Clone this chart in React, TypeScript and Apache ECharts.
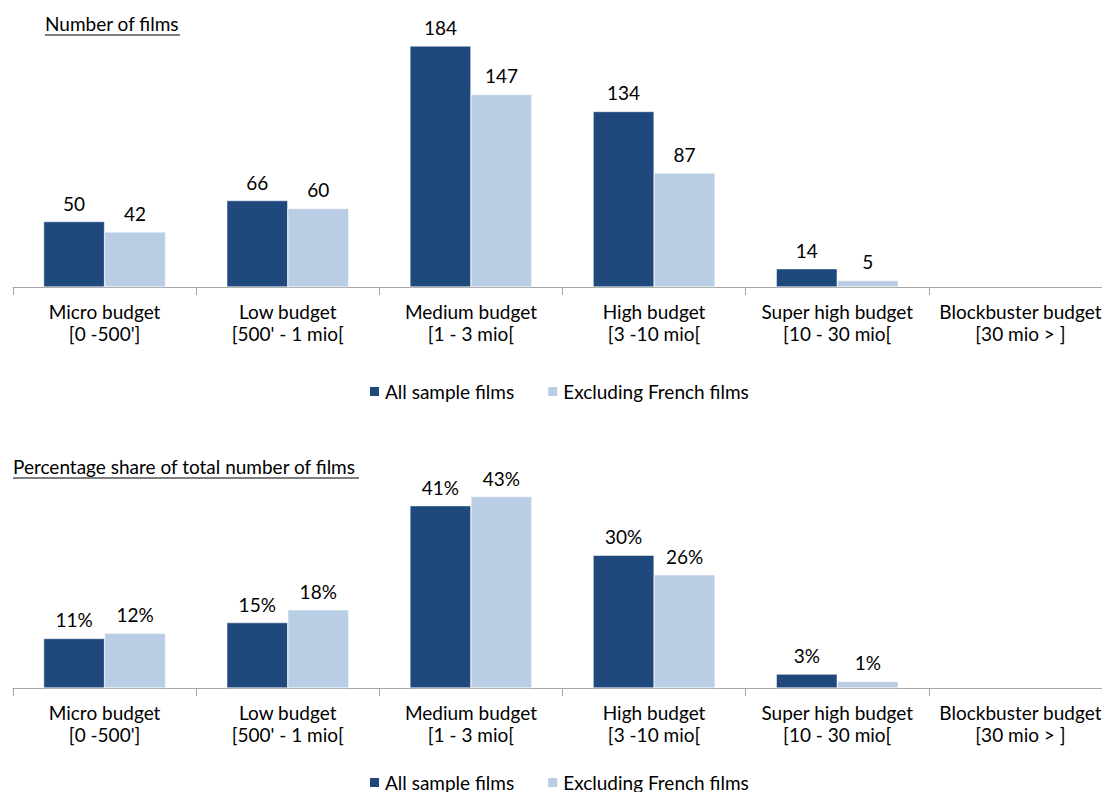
import React, { useEffect, useRef } from "react";
import * as echarts from "echarts";

const categories = [
  "Micro budget\n[0 -500']",
  "Low budget\n[500' - 1 mio[",
  "Medium budget\n[1 - 3 mio[",
  "High budget\n[3 -10 mio[",
  "Super high budget\n[10 - 30 mio[",
  "Blockbuster budget\n[30 mio > ]",
];
const countAll = [50, 66, 184, 134, 14, null];
const countExcl = [42, 60, 147, 87, 5, null];
const shareAll = [11.16, 14.73, 41.07, 29.91, 3.13, null];
const shareExcl = [12.32, 17.6, 43.11, 25.51, 1.47, null];
const seriesNames = ["All sample films", "Excluding French films"];

const DARK = "#1F497D";
const LIGHT = "#B9CDE5";
const FONT = "Lato, 'Open Sans', sans-serif";
const FS = 19;

export default function App() {
  const ref = useRef<HTMLDivElement>(null);
  useEffect(() => {
    const chart = echarts.init(ref.current!, null, { renderer: "svg" });
    const label = (pct: boolean) => ({
      show: true,
      position: "top",
      distance: 9,
      color: "#000",
      fontSize: FS,
      fontFamily: FONT,
      formatter: (p: any) => (p.value == null ? "" : pct ? Math.round(p.value) + "%" : String(p.value)),
    });
    const xAxisBase = (gridIndex: number) => ({
      type: "category",
      gridIndex,
      data: categories,
      axisLine: { lineStyle: { color: "#A6A6A6", width: 1 } },
      axisTick: { show: true, length: 8, lineStyle: { color: "#A6A6A6" } },
      axisLabel: { color: "#000", fontSize: FS, fontFamily: FONT, lineHeight: 22, margin: 13, interval: 0 },
    });
    const yAxisBase = (gridIndex: number, max: number) => ({
      type: "value",
      gridIndex,
      min: 0,
      max,
      show: false,
      splitLine: { show: false },
    });
    const bar = (name: string, data: any[], color: string, idx: number, pct: boolean) => ({
      type: "bar",
      name,
      data,
      xAxisIndex: idx,
      yAxisIndex: idx,
      barWidth: 61,
      barGap: "0%",
      itemStyle: { color, borderColor: "#fff", borderWidth: 0.5 },
      label: label(pct),
    });
    const legend = (top: number) => ({
      top,
      left: 363,
      itemWidth: 11,
      itemHeight: 11,
      itemGap: 32,
      icon: "rect",
      textStyle: { fontSize: FS, color: "#000", fontFamily: FONT },
      data: seriesNames,
    });
    chart.setOption({
      animation: false,
      textStyle: { fontFamily: FONT },
      grid: [
        { left: 13, width: 1099, top: 25, height: 262, outerBoundsMode: "none", containLabel: false },
        { left: 13, width: 1099, top: 466, height: 222, outerBoundsMode: "none", containLabel: false },
      ],
      xAxis: [xAxisBase(0), xAxisBase(1)],
      yAxis: [yAxisBase(0, 200), yAxisBase(1, 50)],
      legend: [legend(377), legend(768)],
      graphic: [
        { type: "text", left: 45, top: 14, style: { text: "Number of films", fontSize: FS, fontFamily: FONT, fill: "#000" } },
        { type: "line", shape: { x1: 45, y1: 35, x2: 180, y2: 35 }, style: { stroke: "#000", lineWidth: 1.2 } },
        { type: "text", left: 13, top: 457, style: { text: "Percentage share of total number of films", fontSize: FS, fontFamily: FONT, fill: "#000" } },
        { type: "line", shape: { x1: 13, y1: 478, x2: 359, y2: 478 }, style: { stroke: "#000", lineWidth: 1.2 } },
      ],
      series: [
        bar(seriesNames[0], countAll, DARK, 0, false),
        bar(seriesNames[1], countExcl, LIGHT, 0, false),
        bar(seriesNames[0], shareAll, DARK, 1, true),
        bar(seriesNames[1], shareExcl, LIGHT, 1, true),
      ],
    });
    return () => chart.dispose();
  }, []);
  return (
    <div
      ref={ref}
      style={{ position: "absolute", left: 0, top: 0, width: 1102, height: 792, background: "#fff" }}
    />
  );
}
